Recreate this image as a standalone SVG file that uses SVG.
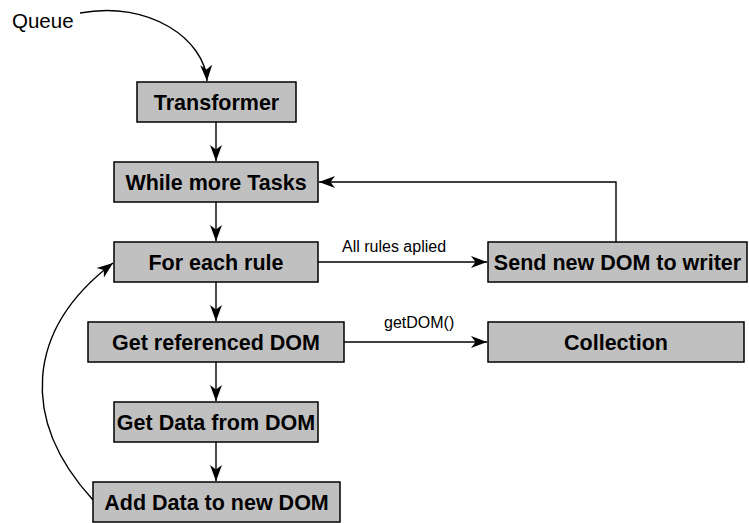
<svg xmlns="http://www.w3.org/2000/svg" width="749" height="523" viewBox="0 0 749 523">
  <style>
    .box { fill: #c0c0c0; stroke: #000; stroke-width: 1.5; }
    .title { font-family: "Liberation Sans", Arial, sans-serif; font-size: 21.5px; font-weight: bold; fill: #000; text-anchor: middle; }
    .lbl { font-family: "Liberation Sans", Arial, sans-serif; font-size: 16px; fill: #000; }
    .edge { fill: none; stroke: #000; stroke-width: 1.4; marker-end: url(#arrow); }
  </style>
  <defs>
    <marker id="arrow" markerUnits="userSpaceOnUse" markerWidth="17" markerHeight="13" viewBox="0 0 17 13" refX="16" refY="6.5" orient="auto">
      <path d="M0,0.5 L16,6.5 L0,12.5 L4.5,6.5 Z" fill="#000"/>
    </marker>
  </defs>

  <rect width="749" height="523" fill="#fff"/>

  <text class="lbl" x="12" y="28" style="font-size:20.5px">Queue</text>

  <g id="connectors">
    <path class="edge" d="M80,13 C150,0 205,40 207,81"/>
    <line class="edge" x1="216" y1="122" x2="216" y2="161"/>
    <line class="edge" x1="216" y1="202" x2="216" y2="241"/>
    <line class="edge" x1="216" y1="282" x2="216" y2="321"/>
    <line class="edge" x1="216" y1="362" x2="216" y2="401"/>
    <line class="edge" x1="216" y1="442" x2="216" y2="481"/>
    <line class="edge" x1="318" y1="262" x2="487" y2="262"/>
    <line class="edge" x1="344" y1="342" x2="487" y2="342"/>
    <polyline class="edge" points="616,242 616,182 319,182"/>
    <path class="edge" d="M93,500 C20,420 25,330 113,263"/>
    <text class="lbl" x="342" y="252">All rules aplied</text>
    <text class="lbl" x="384" y="328">getDOM()</text>
  </g>

  <g id="transformer">
    <rect class="box" x="137" y="82" width="159" height="40"/>
    <text class="title" x="216.5" y="109.7">Transformer</text>
  </g>
  <g id="while-more-tasks">
    <rect class="box" x="114" y="162" width="204" height="40"/>
    <text class="title" x="216" y="189.7">While more Tasks</text>
  </g>
  <g id="for-each-rule">
    <rect class="box" x="114" y="242" width="204" height="40"/>
    <text class="title" x="216" y="269.7">For each rule</text>
  </g>
  <g id="send-new-dom">
    <rect class="box" x="488" y="242" width="259" height="40"/>
    <text class="title" x="617.5" y="269.7">Send new DOM to writer</text>
  </g>
  <g id="get-referenced-dom">
    <rect class="box" x="88" y="322" width="256" height="40"/>
    <text class="title" x="216" y="349.7">Get referenced DOM</text>
  </g>
  <g id="collection">
    <rect class="box" x="488" y="322" width="256" height="40"/>
    <text class="title" x="616" y="349.7">Collection</text>
  </g>
  <g id="get-data-from-dom">
    <rect class="box" x="114" y="402" width="204" height="40"/>
    <text class="title" x="216" y="429.7">Get Data from DOM</text>
  </g>
  <g id="add-data-to-new-dom">
    <rect class="box" x="93" y="482" width="247" height="40"/>
    <text class="title" x="216.5" y="509.7">Add Data to new DOM</text>
  </g>
</svg>
